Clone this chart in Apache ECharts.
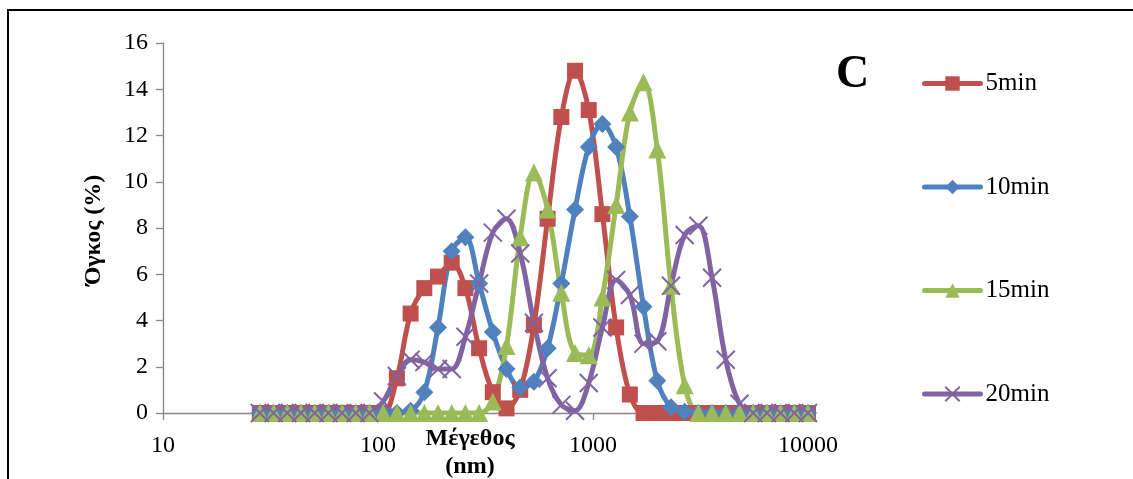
<!DOCTYPE html>
<html>
<head>
<meta charset="utf-8">
<script src="https://cdn.jsdelivr.net/npm/echarts@6/dist/echarts.min.js"></script>
<style>
  html, body { margin: 0; padding: 0; background: #fff; }
  #chart { width: 1133px; height: 479px; }
</style>
</head>
<body>
<div id="chart"></div>
<script>
// Particle size bins (nm)
const sizes = [28.21, 32.67, 37.84, 43.82, 50.75, 58.77, 68.06, 78.82, 91.28, 105.7,
  122.4, 141.8, 164.2, 190.1, 220.2, 255.0, 295.3, 342.0, 396.1, 458.7,
  531.2, 615.1, 712.4, 825.0, 955.4, 1106, 1281, 1484, 1718, 1990,
  2305, 2669, 3091, 3580, 4145, 4801, 5560, 6439, 7456, 8635, 10000];

// Volume distribution (%) per sampling time
const vol5 = [0, 0, 0, 0, 0, 0, 0, 0, 0, 0,
  1.5, 4.3, 5.4, 5.9, 6.5, 5.4, 2.8, 0.9, 0.2, 1.0,
  3.8, 8.4, 12.8, 14.8, 13.1, 8.6, 3.7, 0.8, 0, 0,
  0, 0, 0, 0, 0, 0, 0, 0, 0, 0, 0];
const vol10 = [0, 0, 0, 0, 0, 0, 0, 0, 0, 0,
  0, 0.1, 0.9, 3.7, 7.0, 7.6, 5.6, 3.5, 1.9, 1.1,
  1.35, 2.8, 5.6, 8.8, 11.5, 12.5, 11.5, 8.5, 4.6, 1.4,
  0.25, 0.05, 0, 0, 0, 0, 0, 0, 0, 0, 0];
const vol15 = [0, 0, 0, 0, 0, 0, 0, 0, 0, 0,
  0, 0, 0, 0, 0, 0, 0, 0.5, 2.9, 7.6,
  10.4, 8.8, 5.2, 2.6, 2.5, 5.0, 9.0, 13.0, 14.3, 11.4,
  5.5, 1.2, 0, 0, 0, 0, 0, 0, 0, 0, 0];
const vol20 = [0, 0, 0, 0, 0, 0, 0, 0, 0, 0.5,
  1.6, 2.3, 2.2, 1.9, 1.9, 3.3, 5.6, 7.8, 8.4, 6.9,
  3.9, 1.5, 0.35, 0.1, 1.3, 3.7, 5.75, 5.1, 3.0, 3.1,
  5.5, 7.7, 8.1, 5.85, 2.3, 0.4, 0, 0, 0, 0, 0];

const seriesNames = ['5min', '10min', '15min', '20min'];
const yTicks = [0, 2, 4, 6, 8, 10, 12, 14, 16];
const xTicks = [10, 100, 1000, 10000];

const SERIF = '"Liberation Serif", "Times New Roman", serif';
const AXIS_GREY = '#868686';

const pair = arr => sizes.map((s, i) => [s, arr[i]]);

const crossPath = 'path://M0,0L10,10M10,0L0,10';

function lineSeries(name, values, color, symbol, size, extraItem) {
  return {
    name: name,
    type: 'line',
    data: pair(values),
    smooth: 0.35,
    symbol: symbol,
    symbolSize: size,
    showAllSymbol: true,
    lineStyle: { color: color, width: 5, cap: 'round' },
    itemStyle: Object.assign({ color: color }, extraItem || {}),
    emphasis: { disabled: true },
    animation: false,
    z: 2
  };
}

const chart = echarts.init(document.getElementById('chart'), null, { renderer: 'canvas' });

chart.setOption({
  backgroundColor: '#ffffff',
  animation: false,
  grid: { left: 163, right: 325, top: 43, bottom: 66, containLabel: false },
  xAxis: {
    type: 'log',
    logBase: 10,
    min: xTicks[0],
    max: xTicks[xTicks.length - 1],
    axisLine: { show: true, lineStyle: { color: AXIS_GREY, width: 1.3 } },
    axisTick: { show: true, inside: false, length: 7, lineStyle: { color: AXIS_GREY, width: 1.3 } },
    minorTick: { show: false },
    splitLine: { show: false },
    axisLabel: {
      color: '#000', fontFamily: SERIF, fontSize: 24, margin: 21,
      formatter: v => String(Math.round(v))
    }
  },
  yAxis: {
    type: 'value',
    min: yTicks[0],
    max: yTicks[yTicks.length - 1],
    interval: 2,
    axisLine: { show: true, lineStyle: { color: AXIS_GREY, width: 1.3 } },
    axisTick: { show: true, inside: false, length: 7, lineStyle: { color: AXIS_GREY, width: 1.3 } },
    splitLine: { show: false },
    axisLabel: { color: '#000', fontFamily: SERIF, fontSize: 24, margin: 15 }
  },
  legend: {
    orient: 'vertical',
    left: 917,
    top: 66,
    itemWidth: 56,
    itemHeight: 18,
    itemGap: 78.5,
    lineStyle: { width: 5, cap: 'round' },
    textStyle: { color: '#000', fontFamily: SERIF, fontSize: 25, lineHeight: 24 },
    data: seriesNames
  },
  graphic: [
    {
      type: 'rect',
      shape: { x: 8, y: 10, width: 1200, height: 520 },
      style: { fill: 'none', stroke: '#000', lineWidth: 2 },
      silent: true, z: 100
    },
    {
      type: 'text', left: 836, top: 52,
      style: { text: 'C', font: 'bold 46px ' + SERIF, fill: '#000' },
      silent: true
    },
    {
      type: 'text', x: 470, y: 439,
      style: { text: 'Μέγεθος', font: 'bold 24px ' + SERIF, fill: '#000', align: 'center', verticalAlign: 'middle' },
      silent: true
    },
    {
      type: 'text', x: 470, y: 467,
      style: { text: '(nm)', font: 'bold 24px ' + SERIF, fill: '#000', align: 'center', verticalAlign: 'middle' },
      silent: true
    },
    {
      type: 'text', x: 94, y: 230, rotation: Math.PI / 2,
      style: { text: 'Όγκος (%)', font: 'bold 24px ' + SERIF, fill: '#000', align: 'center', verticalAlign: 'middle' },
      silent: true
    }
  ],
  series: [
    lineSeries(seriesNames[0], vol5, '#C0504D', 'rect', 16),
    lineSeries(seriesNames[1], vol10, '#4F81BD', 'diamond', 18),
    lineSeries(seriesNames[2], vol15, '#9BBB59', 'triangle', 18),
    lineSeries(seriesNames[3], vol20, '#8064A2', crossPath, 18, { borderColor: '#8064A2', borderWidth: 2 })
  ]
});
</script>
</body>
</html>
